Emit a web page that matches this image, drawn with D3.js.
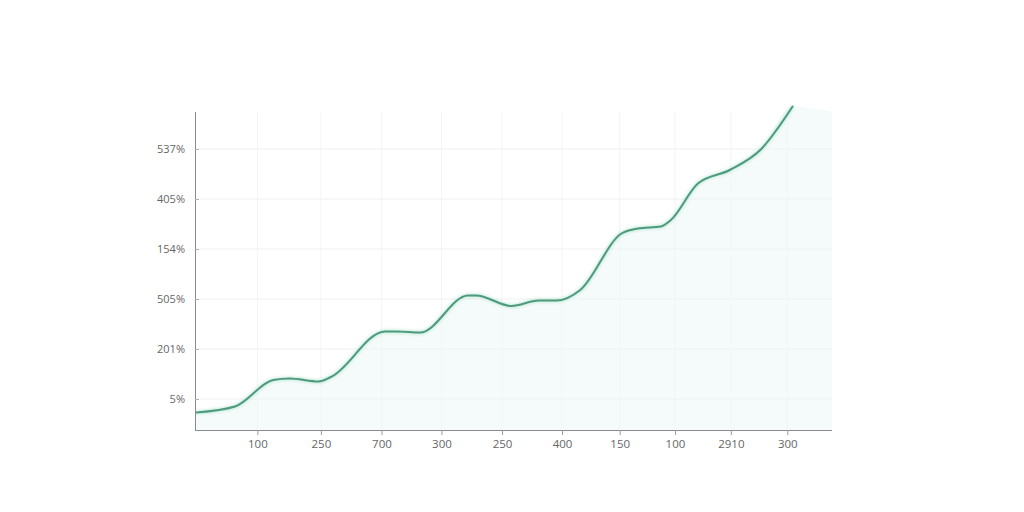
<!DOCTYPE html>
<html lang="en">
<head>
<meta charset="UTF-8">
<title>Growth line</title>
<script src="https://cdn.jsdelivr.net/npm/d3@7"></script>
<style>
  body { margin: 0; background: #fff; }
  text { font-family: "Open Sans", "DejaVu Sans", sans-serif; }
</style>
</head>
<body>
<svg width="1024" height="512"></svg>
<script>
// tick labels as printed on the chart
const xLabels = ["100", "250", "700", "300", "250", "400", "150", "100", "2910", "300"]
const xTickVals = [0.99, 2.07, 3.10, 4.12, 5.15, 6.17, 7.15, 8.09, 9.04, 10.0]
const yLabels = ["537%", "405%", "154%", "505%", "201%", "5%"]
const yTickVals = [5, 4, 3, 2, 1, 0]

// line samples (x in tick units, y in tick units)
const xs = [-0.05, 0.61, 1.26, 1.54, 2.03, 2.24, 3.16, 3.37, 3.76, 4.57, 4.71, 5.31, 5.77, 6.08, 6.48, 7.18, 7.46, 7.85, 8.02, 8.48, 9.02, 9.54, 10.09]
const ys = [-0.27, -0.15, 0.38, 0.41, 0.35, 0.44, 1.35, 1.35, 1.33, 2.07, 2.07, 1.86, 1.97, 1.97, 2.18, 3.31, 3.41, 3.45, 3.58, 4.31, 4.58, 4.98, 5.85]

const mLeft = 195, mRight = 832, mTop = 112, mBottom = 430
const svg = d3.select("svg")

const x = d3.scaleLinear().domain([-0.07, 10.76]).range([mLeft, mRight])
const y = d3.scaleLinear().domain([-0.62, 5.74]).range([mBottom, mTop])

const pts = xs.map((d, i) => [d, ys[i]])

const defs = svg.append("defs")
const glow = defs.append("filter").attr("id", "glow").attr("x", "-10%").attr("y", "-10%").attr("width", "120%").attr("height", "120%")
glow.append("feGaussianBlur").attr("stdDeviation", 1.5)

// pale tint under the curve, carried on to the right edge
const last = pts[pts.length - 1]
const areaPts = pts.concat([[x.domain()[1], y.domain()[1]]])
const area = d3.area().x(d => x(d[0])).y0(mBottom).y1(d => y(d[1])).curve(d3.curveMonotoneX)
svg.append("path").datum(areaPts).attr("d", area).attr("fill", "#f5fbfb")

// faint grid
svg.append("g").selectAll("line")
    .data(yTickVals).join("line")
    .attr("x1", mLeft).attr("x2", mRight)
    .attr("y1", d => y(d)).attr("y2", d => y(d))
    .attr("stroke", "#eef1f1").attr("stroke-width", 1)
svg.append("g").selectAll("line")
    .data(xTickVals).join("line")
    .attr("x1", d => x(d)).attr("x2", d => x(d))
    .attr("y1", mTop).attr("y2", mBottom)
    .attr("stroke", "#f2f5f5").attr("stroke-width", 1)

// line + soft glow
const line = d3.line().x(d => x(d[0])).y(d => y(d[1])).curve(d3.curveMonotoneX)
svg.append("path").datum(pts).attr("d", line)
    .attr("fill", "none").attr("stroke", "#8fd8b8").attr("stroke-width", 4)
    .attr("stroke-opacity", 0.45).attr("filter", "url(#glow)")
svg.append("path").datum(pts).attr("d", line)
    .attr("fill", "none").attr("stroke", "#4d9a7d").attr("stroke-width", 2)
    .attr("stroke-linecap", "round")

// axes
const xAxis = d3.axisBottom(x).tickValues(xTickVals).tickSize(5)
    .tickFormat((d, i) => xLabels[i])
const gx = svg.append("g").attr("transform", `translate(0,${mBottom})`).call(xAxis)
gx.select(".domain").attr("d", `M${mLeft},0.5H${mRight}`).attr("stroke", "#8a8a8a")
gx.selectAll(".tick line").attr("stroke", "#9a9a9a")
gx.selectAll(".tick text").attr("y", 10).attr("dy", "0.71em").attr("fill", "#666").attr("font-size", 11.5)

const yAxis = d3.axisLeft(y).tickValues(yTickVals).tickSize(-4)
    .tickFormat((d, i) => yLabels[i])
const gy = svg.append("g").attr("transform", `translate(${mLeft},0)`).call(yAxis)
gy.select(".domain").attr("d", `M0.5,${mTop}V${mBottom}`).attr("stroke", "#8a8a8a")
gy.selectAll(".tick line").attr("stroke", "#b0b0b0")
gy.selectAll(".tick text").attr("x", -10).attr("fill", "#666").attr("font-size", 11)
</script>
</body>
</html>
